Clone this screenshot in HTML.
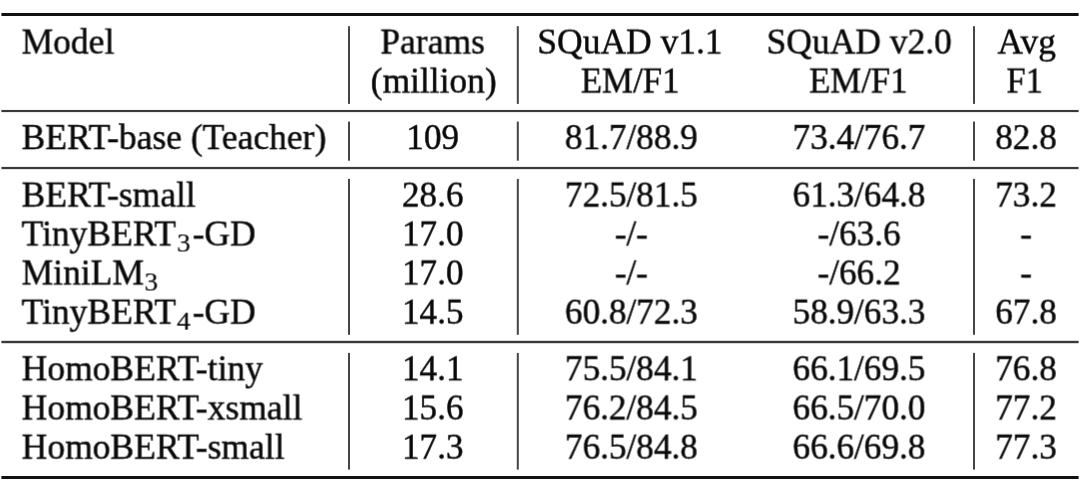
<!DOCTYPE html>
<html><head><meta charset="utf-8"><title>Table</title>
<style>
html,body{margin:0;padding:0;background:#fff;overflow:hidden;}
body{width:1080px;height:495px;position:relative;overflow:hidden;font-family:"Liberation Serif",serif;font-size:35px;color:#0a0a0a;}
.t{position:absolute;white-space:nowrap;line-height:40px;height:40px;will-change:transform;transform-origin:0 0;-webkit-text-stroke:0.45px #0a0a0a;}
.c{width:300px;text-align:center;transform-origin:50% 0;}
.h{position:absolute;left:1.4px;width:1077.2px;}
.v{position:absolute;background:#3a3a3a;}
sub{font-size:0.7em;vertical-align:baseline;position:relative;top:0.23em;line-height:0;margin:0 3px 0 0.9px;display:inline-block;transform:scaleX(1.1);transform-origin:0 50%;-webkit-text-stroke:0.15px #0a0a0a;}
</style></head><body>

<svg width="1080" height="495" style="position:absolute;left:0;top:0">
<rect x="1.4" y="13" width="1077.2" height="3" fill="#111"/>
<rect x="1.4" y="109.95" width="1077.2" height="2.15" fill="#3a3a3a"/>
<rect x="1.4" y="166.9" width="1077.2" height="2.25" fill="#3a3a3a"/>
<rect x="1.4" y="340.8" width="1077.2" height="2.4" fill="#3a3a3a"/>
<rect x="1.4" y="476" width="1077.2" height="3" fill="#111"/>
<rect x="348" y="26.2" width="2" height="77.7" fill="#454545"/>
<rect x="348" y="121.6" width="2" height="39.1" fill="#454545"/>
<rect x="348" y="178.9" width="2" height="155.9" fill="#454545"/>
<rect x="348" y="352.9" width="2" height="116.7" fill="#454545"/>
<rect x="516.8" y="26.2" width="2" height="77.7" fill="#454545"/>
<rect x="516.8" y="121.6" width="2" height="39.1" fill="#454545"/>
<rect x="516.8" y="178.9" width="2" height="155.9" fill="#454545"/>
<rect x="516.8" y="352.9" width="2" height="116.7" fill="#454545"/>
<rect x="973" y="26.2" width="2" height="77.7" fill="#454545"/>
<rect x="973" y="121.6" width="2" height="39.1" fill="#454545"/>
<rect x="973" y="178.9" width="2" height="155.9" fill="#454545"/>
<rect x="973" y="352.9" width="2" height="116.7" fill="#454545"/>
</svg>
<div class="t" style="left:21px;top:22px;transform:translate(0.60px,0.60px) rotate(0.001deg) scaleX(1.015)">Model</div>
<div class="t c" style="left:282px;top:22px;transform:translate(0.70px,0.60px) rotate(0.001deg) scaleX(1.014)">Params</div>
<div class="t c" style="left:480px;top:22px;transform:translate(0.00px,0.60px) rotate(0.001deg) scaleX(1.013)">SQuAD v1.1</div>
<div class="t c" style="left:709px;top:22px;transform:translate(0.30px,0.60px) rotate(0.001deg) scaleX(1.013)">SQuAD v2.0</div>
<div class="t c" style="width:100px;left:976px;top:22px;transform:translate(0.60px,0.60px) rotate(0.001deg) scaleX(1.013)">Avg</div>
<div class="t c" style="left:283px;top:61px;transform:translate(0.70px,0.60px) rotate(0.001deg) scaleX(1.012)">(million)</div>
<div class="t c" style="left:480px;top:61px;transform:translate(0.20px,0.60px) rotate(0.001deg) scaleX(0.997)">EM/F1</div>
<div class="t c" style="left:708px;top:61px;transform:translate(0.40px,0.60px) rotate(0.001deg) scaleX(0.995)">EM/F1</div>
<div class="t c" style="width:100px;left:974px;top:61px;transform:translate(0.70px,0.60px) rotate(0.001deg) scaleX(0.985)">F1</div>
<div class="t" style="left:21px;top:118px;transform:translate(0.60px,0.10px) rotate(0.001deg) scaleX(1.015)">BERT-base (Teacher)</div>
<div class="t c" style="left:282px;top:118px;transform:translate(0.70px,0.10px) rotate(0.001deg) scaleX(1.005)">109</div>
<div class="t c" style="left:481px;top:118px;transform:translate(0.40px,0.10px) rotate(0.001deg) scaleX(1.005)">81.7/88.9</div>
<div class="t c" style="left:709px;top:118px;transform:translate(0.10px,0.10px) rotate(0.001deg) scaleX(1.005)">73.4/76.7</div>
<div class="t c" style="width:100px;left:976px;top:118px;transform:translate(0.00px,0.10px) rotate(0.001deg) scaleX(1.005)">82.8</div>
<div class="t" style="left:21px;top:175px;transform:translate(0.60px,0.60px) rotate(0.001deg) scaleX(1.015)">BERT-small</div>
<div class="t c" style="left:282px;top:175px;transform:translate(0.70px,0.60px) rotate(0.001deg) scaleX(1.005)">28.6</div>
<div class="t c" style="left:481px;top:175px;transform:translate(0.40px,0.60px) rotate(0.001deg) scaleX(1.005)">72.5/81.5</div>
<div class="t c" style="left:709px;top:175px;transform:translate(0.10px,0.60px) rotate(0.001deg) scaleX(1.005)">61.3/64.8</div>
<div class="t c" style="width:100px;left:976px;top:175px;transform:translate(0.00px,0.60px) rotate(0.001deg) scaleX(1.005)">73.2</div>
<div class="t" style="left:21px;top:214px;transform:translate(0.60px,0.50px) rotate(0.001deg) scaleX(1.015)">TinyBERT<sub>3</sub>-GD</div>
<div class="t c" style="left:282px;top:214px;transform:translate(0.70px,0.50px) rotate(0.001deg) scaleX(1.005)">17.0</div>
<div class="t c" style="left:481px;top:214px;transform:translate(0.40px,0.50px) rotate(0.001deg) scaleX(1.005)">-/-</div>
<div class="t c" style="left:709px;top:214px;transform:translate(0.10px,0.50px) rotate(0.001deg) scaleX(1.005)">-/63.6</div>
<div class="t c" style="width:100px;left:976px;top:214px;transform:translate(0.00px,0.50px) rotate(0.001deg) scaleX(1.005)">-</div>
<div class="t" style="left:21px;top:253px;transform:translate(0.60px,0.50px) rotate(0.001deg) scaleX(1.015)">MiniLM<sub>3</sub></div>
<div class="t c" style="left:282px;top:253px;transform:translate(0.70px,0.50px) rotate(0.001deg) scaleX(1.005)">17.0</div>
<div class="t c" style="left:481px;top:253px;transform:translate(0.40px,0.50px) rotate(0.001deg) scaleX(1.005)">-/-</div>
<div class="t c" style="left:709px;top:253px;transform:translate(0.10px,0.50px) rotate(0.001deg) scaleX(1.005)">-/66.2</div>
<div class="t c" style="width:100px;left:976px;top:253px;transform:translate(0.00px,0.50px) rotate(0.001deg) scaleX(1.005)">-</div>
<div class="t" style="left:21px;top:292px;transform:translate(0.60px,0.70px) rotate(0.001deg) scaleX(1.015)">TinyBERT<sub>4</sub>-GD</div>
<div class="t c" style="left:282px;top:292px;transform:translate(0.70px,0.70px) rotate(0.001deg) scaleX(1.005)">14.5</div>
<div class="t c" style="left:481px;top:292px;transform:translate(0.40px,0.70px) rotate(0.001deg) scaleX(1.005)">60.8/72.3</div>
<div class="t c" style="left:709px;top:292px;transform:translate(0.10px,0.70px) rotate(0.001deg) scaleX(1.005)">58.9/63.3</div>
<div class="t c" style="width:100px;left:976px;top:292px;transform:translate(0.00px,0.70px) rotate(0.001deg) scaleX(1.005)">67.8</div>
<div class="t" style="left:21px;top:349px;transform:translate(0.60px,0.30px) rotate(0.001deg) scaleX(1.015)">HomoBERT-tiny</div>
<div class="t c" style="left:282px;top:349px;transform:translate(0.70px,0.30px) rotate(0.001deg) scaleX(1.005)">14.1</div>
<div class="t c" style="left:481px;top:349px;transform:translate(0.40px,0.30px) rotate(0.001deg) scaleX(1.005)">75.5/84.1</div>
<div class="t c" style="left:709px;top:349px;transform:translate(0.10px,0.30px) rotate(0.001deg) scaleX(1.005)">66.1/69.5</div>
<div class="t c" style="width:100px;left:976px;top:349px;transform:translate(0.00px,0.30px) rotate(0.001deg) scaleX(1.005)">76.8</div>
<div class="t" style="left:21px;top:388px;transform:translate(0.60px,0.50px) rotate(0.001deg) scaleX(1.015)">HomoBERT-xsmall</div>
<div class="t c" style="left:282px;top:388px;transform:translate(0.70px,0.50px) rotate(0.001deg) scaleX(1.005)">15.6</div>
<div class="t c" style="left:481px;top:388px;transform:translate(0.40px,0.50px) rotate(0.001deg) scaleX(1.005)">76.2/84.5</div>
<div class="t c" style="left:709px;top:388px;transform:translate(0.10px,0.50px) rotate(0.001deg) scaleX(1.005)">66.5/70.0</div>
<div class="t c" style="width:100px;left:976px;top:388px;transform:translate(0.00px,0.50px) rotate(0.001deg) scaleX(1.005)">77.2</div>
<div class="t" style="left:21px;top:427px;transform:translate(0.60px,0.70px) rotate(0.001deg) scaleX(1.015)">HomoBERT-small</div>
<div class="t c" style="left:282px;top:427px;transform:translate(0.70px,0.70px) rotate(0.001deg) scaleX(1.005)">17.3</div>
<div class="t c" style="left:481px;top:427px;transform:translate(0.40px,0.70px) rotate(0.001deg) scaleX(1.005)">76.5/84.8</div>
<div class="t c" style="left:709px;top:427px;transform:translate(0.10px,0.70px) rotate(0.001deg) scaleX(1.005)">66.6/69.8</div>
<div class="t c" style="width:100px;left:976px;top:427px;transform:translate(0.00px,0.70px) rotate(0.001deg) scaleX(1.005)">77.3</div>
</body></html>
